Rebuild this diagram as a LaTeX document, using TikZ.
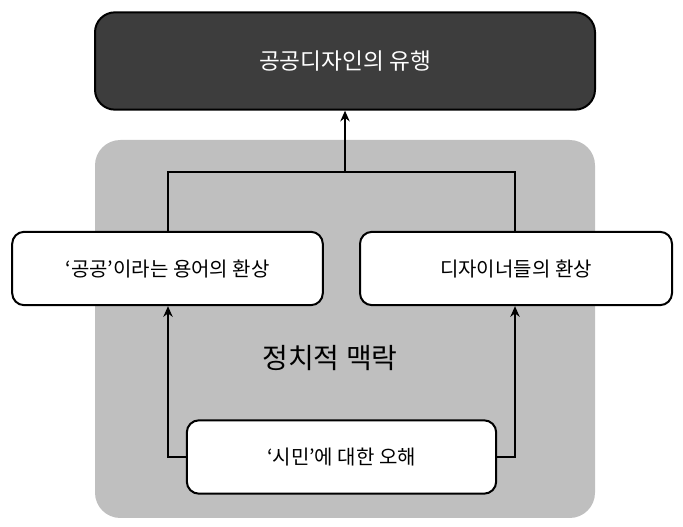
\documentclass[tikz,border=0pt]{standalone}
\usepackage{fontspec}
\setmainfont{Noto Sans CJK KR}
\usetikzlibrary{arrows.meta}
\begin{document}
\begin{tikzpicture}[x=0.75pt,y=-0.75pt,
 box/.style={draw=black,line width=1.5pt,fill=white,rounded corners=9pt,inner sep=0pt,font=\fontsize{15}{18}\selectfont},
 conn/.style={line width=1.5pt,-{Stealth[length=8pt,width=7pt]}}]
\useasboundingbox (0,0) rectangle (683,527);
\fill[black!25,rounded corners=19pt] (95,140) rectangle (595,518);
\node[draw=black,line width=1.5pt,fill=black!76,rounded corners=15pt,minimum width=375pt,minimum height=73pt,text=white,font=\fontsize{17}{20}\selectfont] (top) at (345,61) {공공디자인의 유행};
\node[box,minimum width=233pt,minimum height=55pt] (l) at (167.5,268.5) {‘공공’이라는 용어의 환상};
\node[box,minimum width=234pt,minimum height=55pt] (r) at (516,268.5) {디자이너들의 환상};
\node[box,minimum width=232pt,minimum height=55pt] (b) at (341.5,457) {‘시민’에 대한 오해};
\node[font=\fontsize{21}{24}\selectfont] (ctx) at (330,358) {정치적 맥락};
\coordinate (j) at (345,172);
\draw[line width=1.5pt] (l.north -| 168,0) |- (j) -| (r.north -| 515,0);
\draw[conn] (j) -- (top.south);
\draw[conn] (b.west) -| (l.south -| 168,0);
\draw[conn] (b.east) -| (r.south -| 515,0);
\end{tikzpicture}
\end{document}
